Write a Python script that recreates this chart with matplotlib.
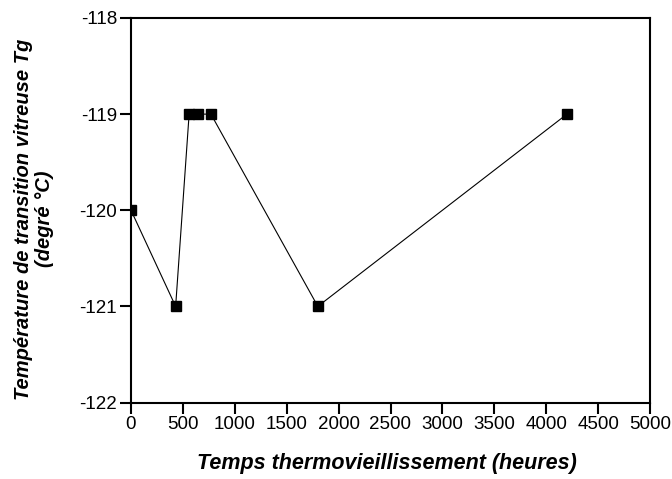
import matplotlib
matplotlib.use("Agg")
import matplotlib.pyplot as plt

hours = [0, 430, 560, 650, 770, 1800, 4200]
tg = [-120, -121, -119, -119, -119, -121, -119]
xticks = [0, 500, 1000, 1500, 2000, 2500, 3000, 3500, 4000, 4500, 5000]
yticks = [-122, -121, -120, -119, -118]

plt.rcParams['font.family'] = ['Liberation Sans', 'DejaVu Sans']

W, H = 672, 479
fig = plt.figure(figsize=(W/100, H/100), dpi=100)
ax = fig.add_axes([131/W, 1-402.5/H, (650-131)/W, (402.5-18)/H])

ax.plot(hours, tg, color='black', linewidth=0.8, marker='s', markersize=6.5,
        markerfacecolor='black', markeredgecolor='black', clip_on=True)

ax.set_xlim(0, 5000)
ax.set_ylim(-122, -118)
ax.set_xticks(xticks)
ax.set_yticks(yticks)
ax.set_xticklabels([str(v) for v in xticks], fontsize=13.5)
ax.set_yticklabels([str(v) for v in yticks], fontsize=13.5)
ax.tick_params(direction='out', length=8, width=1.5, pad=2)

for s in ax.spines.values():
    s.set_linewidth(1.5)

fig.text(387/W, 1-464/H, 'Temps thermovieillissement (heures)', fontsize=15.5,
         fontweight='bold', fontstyle='italic', ha='center', va='center')
fig.text(34/W, 1-219/H, 'Température de transition vitreuse Tg\n(degré °C)',
         fontsize=14.5, fontweight='bold', fontstyle='italic', rotation=90,
         ha='center', va='center', multialignment='center', linespacing=1.15)

fig.savefig('out.png', dpi=100)
